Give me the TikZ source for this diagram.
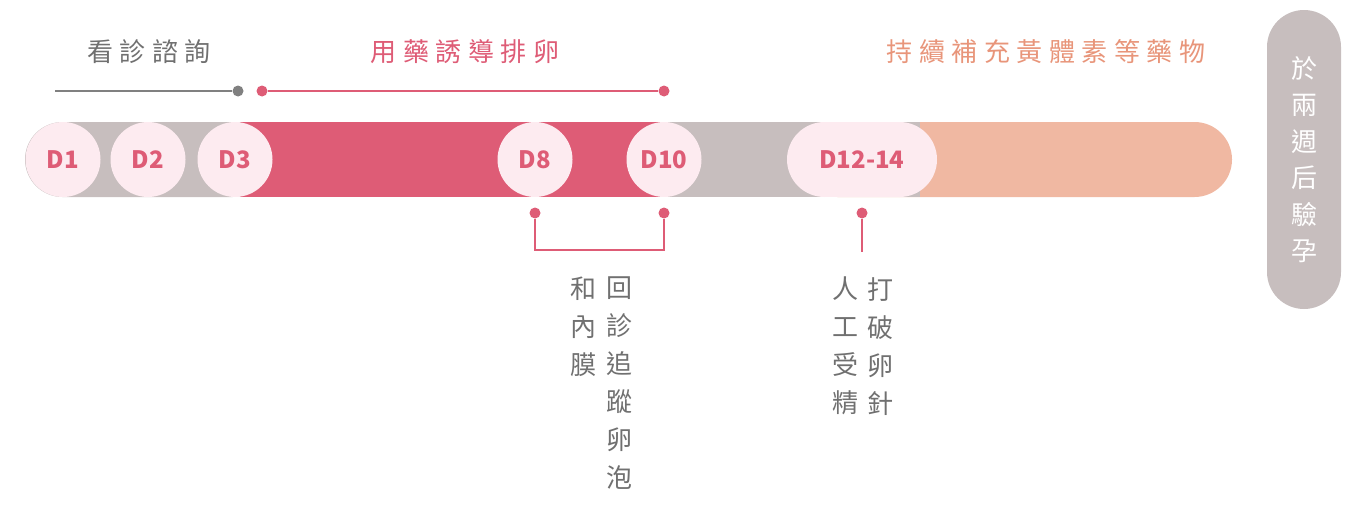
\documentclass[tikz,border=0pt]{standalone}
\usepackage{fontspec}
\setmainfont{Noto Sans CJK TC}
\definecolor{pk}{HTML}{DE5C76}
\definecolor{gy}{HTML}{C7BEBE}
\definecolor{sl}{HTML}{F0B8A2}
\definecolor{slt}{HTML}{E8957A}
\definecolor{lp}{HTML}{FDEBF0}
\definecolor{tg}{HTML}{707070}
\begin{document}
\begin{tikzpicture}[x=1pt,y=-1pt,
  day/.style={circle,fill=lp,minimum size=75pt,inner sep=0pt,text=pk,font=\fontsize{24}{24}\selectfont\bfseries},
  dot/.style={circle,fill=#1,minimum size=11pt,inner sep=0pt},
  lbl/.style={font=\fontsize{26}{26}\selectfont\addfontfeature{LetterSpace=25}},
  vt/.style={align=center,text=tg,font=\fontsize{26}{38}\selectfont,anchor=north,inner sep=0pt}]
\useasboundingbox (0,0) rectangle (1366,530);
\fill[sl,rounded corners=37.5pt] (800,122) rectangle (1232,197);
\fill[gy] (600,122) rectangle (920,197);
\fill[pk] (240,122) rectangle (664,197);
\fill[gy,rounded corners=37.5pt] (25,122) rectangle (270,197);
\fill[pk] (240,122) rectangle (300,197);
\node[day] (d1) at (63,159.5) {D1};
\node[day] (d2) at (148,159.5) {D2};
\node[day] (d3) at (235,159.5) {D3};
\node[day] (d8) at (535,159.5) {D8};
\node[day] (d10) at (664,159.5) {D10};
\fill[lp] (824.5,122) rectangle (899.5,197);
\fill[lp] (824.5,159.5) circle (37.5) (899.5,159.5) circle (37.5);
\node[text=pk,font=\fontsize{24}{24}\selectfont\bfseries] (d12) at (862,159.5) {D12-14};
% top
\node[lbl,text=tg] (t1) at (149,52) {看診諮詢};
\node[lbl,text=pk] (t2) at (465,52) {用藥誘導排卵};
\node[lbl,text=slt] (t3) at (1046,52) {持續補充黃體素等藥物};
\coordinate (g0) at (55,91);
\node[dot=gray] (g1) at (238,91) {};
\draw[gray,line width=2.5pt] (g0) -- (g1);
\node[dot=pk] (p0) at (262,91) {};
\node[dot=pk] (p1) at (664,91) {};
\draw[pk,line width=2.5pt] (p0) -- (p1);
% bottom
\node[dot=pk] (b1) at (535,213) {};
\node[dot=pk] (b2) at (664,213) {};
\node[dot=pk] (b3) at (862,213) {};
\draw[pk,line width=2.5pt] (b1) -- (535,250) -- (664,250) -- (b2);
\coordinate (b3e) at (862,252);
\draw[pk,line width=2.5pt] (b3) -- (b3e);
\node[vt] (c1) at (619,277) {回\\診\\追\\蹤\\卵\\泡};
\node[vt] (c2) at (583,277) {和\\內\\膜};
\node[vt] (c3) at (880,277) {打\\破\\卵\\針};
\node[vt] (c4) at (845,277) {人\\工\\受\\精};
% right
\fill[gy,rounded corners=37pt] (1267,10) rectangle (1341,309);
\node[vt,text=white,font=\fontsize{26}{36.5}\selectfont] (r) at (1304,56) {於\\兩\\週\\后\\驗\\孕};
\end{tikzpicture}
\end{document}
